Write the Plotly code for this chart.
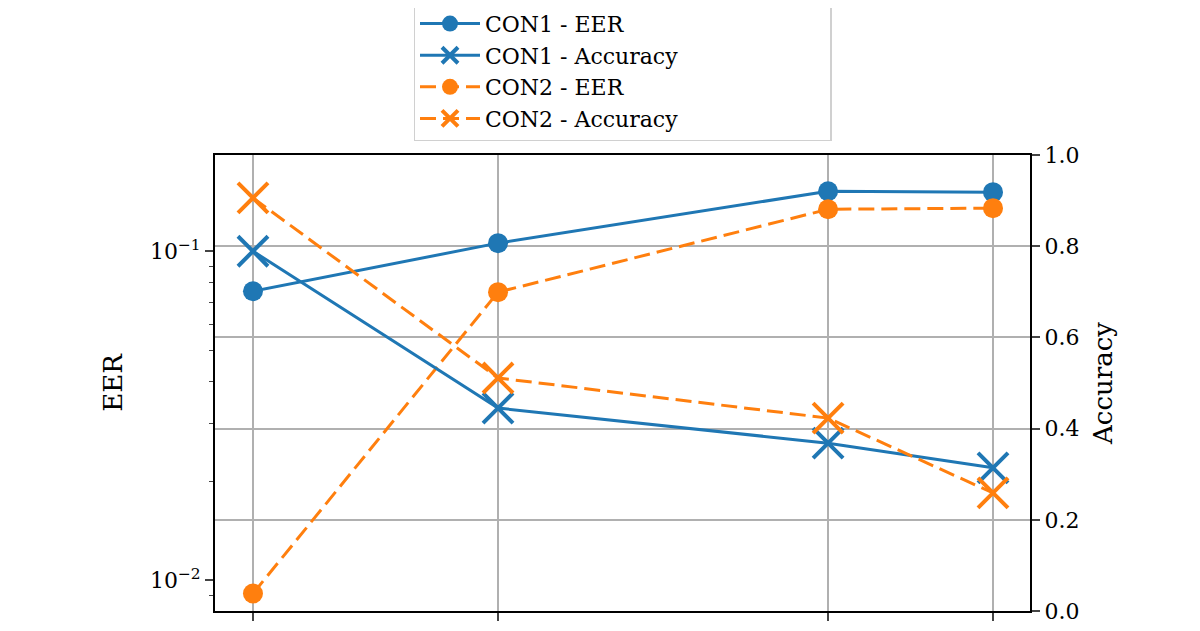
import plotly.graph_objects as go

x = [1, 2, 3.347, 4.02]
con1_eer = [0.0755, 0.1057, 0.152, 0.151]
con2_eer = [0.0091, 0.0750, 0.134, 0.135]
con1_acc = [0.789, 0.445, 0.368, 0.314]
con2_acc = [0.906, 0.511, 0.423, 0.259]

blue, orange = "#1f77b4", "#ff7f0e"
fig = go.Figure()
fig.add_trace(go.Scatter(x=x, y=con1_eer, name="CON1 - EER", mode="lines+markers",
    line=dict(color=blue, width=3), marker=dict(symbol="circle", size=20, color=blue)))
fig.add_trace(go.Scatter(x=x, y=con1_acc, name="CON1 - Accuracy", mode="lines+markers", yaxis="y2",
    line=dict(color=blue, width=3), marker=dict(symbol="x-thin", size=30, line=dict(color=blue, width=4))))
fig.add_trace(go.Scatter(x=x, y=con2_eer, name="CON2 - EER", mode="lines+markers",
    line=dict(color=orange, width=3, dash="16px,7px"), marker=dict(symbol="circle", size=20, color=orange)))
fig.add_trace(go.Scatter(x=x, y=con2_acc, name="CON2 - Accuracy", mode="lines+markers", yaxis="y2",
    line=dict(color=orange, width=3, dash="16px,7px"), marker=dict(symbol="x-thin", size=30, line=dict(color=orange, width=4))))

font = dict(family="DejaVu Serif", size=22, color="black")
fig.update_layout(
    width=1200, height=631, plot_bgcolor="white", paper_bgcolor="white", font=font,
    margin=dict(l=207, r=178, t=147, b=28, autoexpand=False),
    xaxis=dict(range=[0.845, 4.171], tickvals=x, ticktext=["", "", "", ""], showgrid=True,
               gridcolor="#b0b0b0", gridwidth=1.5, ticks="outside", ticklen=8, tickwidth=1.5,
               showline=True, linecolor="black", linewidth=2, mirror=True, zeroline=False),
    yaxis=dict(type="log", range=[-2.094, -0.708], tickvals=[0.01, 0.1],
               ticktext=["10<sup>−2</sup>", "10<sup>−1</sup>"], showgrid=False, ticks="outside",
               ticklen=8, tickwidth=1.5, showline=True, linecolor="black", linewidth=2,
               minor=dict(ticks="outside", ticklen=4, tickwidth=1, showgrid=False,
                          tickvals=[0.009, 0.02, 0.03, 0.04, 0.05, 0.06, 0.07, 0.08, 0.09, 0.2]),
               title=dict(text="EER", standoff=20)),
    yaxis2=dict(overlaying="y", side="right", range=[0, 1], tickvals=[0, 0.2, 0.4, 0.6, 0.8, 1.0],
                ticktext=["0.0", "0.2", "0.4", "0.6", "0.8", "1.0"], showgrid=True, gridcolor="#b0b0b0",
                gridwidth=1.5, ticks="outside", ticklen=8, tickwidth=1.5, zeroline=False,
                showline=True, linecolor="black", linewidth=2, title=dict(text="Accuracy", standoff=15)),
    legend=dict(orientation="h", x=0.5, xanchor="center", y=1.03, yanchor="bottom",
                entrywidth=340, entrywidthmode="pixels", bordercolor="#d0d0d0", borderwidth=1.5,
                font=font, itemwidth=60, tracegroupgap=0),
)
fig.write_html("out.html")
